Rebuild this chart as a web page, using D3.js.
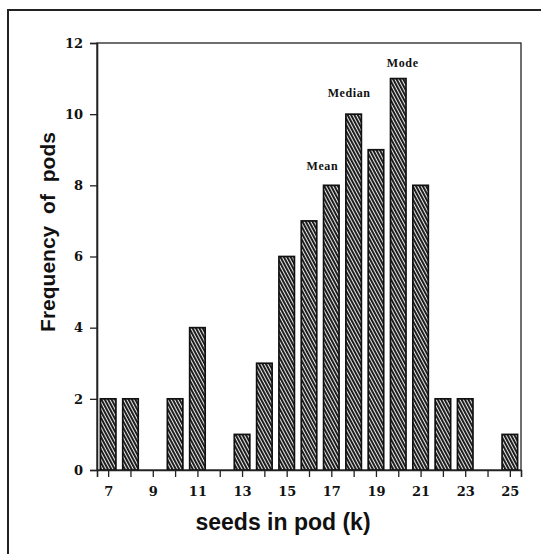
<!DOCTYPE html>
<html><head><meta charset="utf-8">
<script src="https://cdn.jsdelivr.net/npm/d3@7"></script>
<style>body{margin:0;background:#fff}svg{display:block}</style>
</head><body>
<script>
const seeds = [7,8,9,10,11,12,13,14,15,16,17,18,19,20,21,22,23,24,25];
const freq  = [2,2,0,2,4,0,1,3,6,7,8,10,9,11,8,2,2,0,1];
const yTicks = [0,2,4,6,8,10,12];
const xLabelTicks = [7,9,11,13,15,17,19,21,23,25];
const annLabels = ["Mean","Median","Mode"];
const annX = [16.6,17.8,20.2];
const annY = [8.5,10.55,11.4];

const W=541,H=554;
const svg=d3.select("body").append("svg").attr("width",W).attr("height",H);
const m={left:97,top:43,right:521,bottom:470};
const x=d3.scaleLinear().domain([6.5,25.5]).range([m.left,m.right]);
const y=d3.scaleLinear().domain([0,12]).range([m.bottom,m.top]);

const defs=svg.append("defs");
const pat=defs.append("pattern").attr("id","hatch").attr("patternUnits","userSpaceOnUse")
  .attr("width",3).attr("height",3).attr("patternTransform","rotate(-28)");
pat.append("rect").attr("width",3).attr("height",3).attr("fill","#e8e8e8");
pat.append("rect").attr("x",0).attr("width",1.9).attr("height",3).attr("fill","#151515");

// outer frame
svg.append("rect").attr("x",8).attr("y",10).attr("width",W).attr("height",H)
  .attr("fill","none").attr("stroke","#222").attr("stroke-width",2);

// plot frame
svg.append("rect").attr("x",m.left).attr("y",m.top).attr("width",m.right-m.left).attr("height",m.bottom-m.top)
  .attr("fill","none").attr("stroke","#222").attr("stroke-width",1.3);

const bw=15.5;
svg.selectAll(".bar").data(seeds.map((s,i)=>({s,v:freq[i]})).filter(d=>d.v>0)).enter().append("rect")
  .attr("x",d=>x(d.s)-bw/2).attr("y",d=>y(d.v)).attr("width",bw).attr("height",d=>y(0)-y(d.v))
  .attr("fill","url(#hatch)").attr("stroke","#111").attr("stroke-width",1.7);

// y axis
const ya=svg.append("g").attr("transform",`translate(${m.left},0)`)
  .call(d3.axisLeft(y).tickValues(yTicks).tickSize(7).tickPadding(7).tickFormat(d3.format("d")));
ya.select(".domain").attr("stroke","#222").attr("stroke-width",1.6);
ya.selectAll("line").attr("stroke","#222").attr("stroke-width",1.3);
ya.selectAll("text").attr("font-family","DejaVu Serif").attr("font-weight","bold").attr("font-size",13).attr("fill","#111");

// x axis
const xa=svg.append("g").attr("transform",`translate(0,${m.bottom})`)
  .call(d3.axisBottom(x).tickValues(seeds).tickSize(7).tickPadding(10)
    .tickFormat(d=>xLabelTicks.includes(d)?d:""));
xa.select(".domain").attr("stroke","#222").attr("stroke-width",1.6);
xa.selectAll("line").attr("stroke","#222").attr("stroke-width",1.3);
xa.selectAll("text").attr("font-family","DejaVu Serif").attr("font-weight","bold").attr("font-size",13).attr("fill","#111");

// annotations
svg.selectAll(".ann").data(annLabels).enter().append("text")
  .attr("x",(d,i)=>x(annX[i])).attr("y",(d,i)=>y(annY[i])).attr("text-anchor","middle")
  .attr("dominant-baseline","middle").attr("font-family","Liberation Serif").attr("font-weight","bold")
  .attr("font-size",12).attr("letter-spacing",0.6).attr("fill","#111").text(d=>d);

// axis titles
svg.append("text").attr("transform","translate(55,232) rotate(-90)").attr("text-anchor","middle")
  .attr("font-family","Liberation Sans").attr("font-weight","bold").attr("font-size",21).attr("word-spacing",6)
  .attr("fill","#111").text("Frequency of pods");
svg.append("text").attr("x",283).attr("y",530).attr("text-anchor","middle")
  .attr("font-family","Liberation Sans").attr("font-size",23).attr("fill","#111")
  .attr("font-weight","bold").text("seeds in pod (k)");
</script>
</body></html>
